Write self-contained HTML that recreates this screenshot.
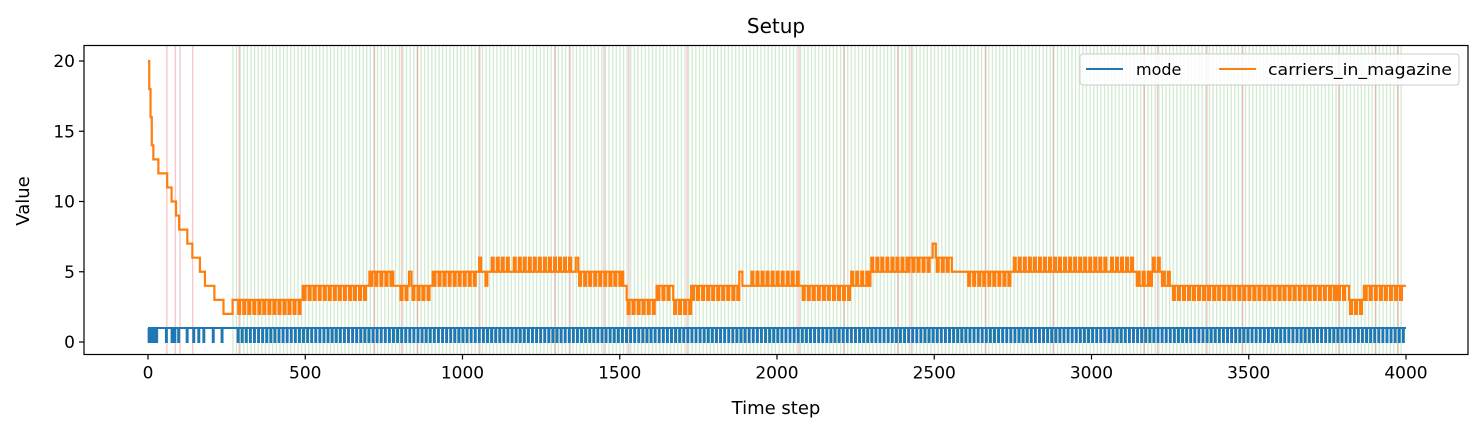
<!DOCTYPE html>
<html><head><meta charset="utf-8"><style>
html,body{margin:0;padding:0;background:#fff;}
svg{display:block;font-family:"DejaVu Sans","Liberation Sans",sans-serif;}
</style></head><body>
<svg id="chart" width="1483" height="433" viewBox="0 0 1483 433" xmlns="http://www.w3.org/2000/svg">
<rect x="0" y="0" width="1483" height="433" fill="#fff"/>
<text x="776" y="33" font-size="20" text-anchor="middle" fill="#000">Setup</text>
<g id="events"></g>
<g id="series"></g>
<rect x="84" y="45.5" width="1384" height="309" fill="none" stroke="#000" stroke-width="1.2"/>
<g id="axes"></g>
<text x="776" y="414" font-size="18" text-anchor="middle">Time step</text>
<text x="29" y="201" font-size="18" text-anchor="middle" transform="rotate(-90 29 201)">Value</text>
<g>
<rect x="1080" y="54" width="379" height="31" rx="3" fill="#fff" fill-opacity="0.85" stroke="#ccc"/>
<line x1="1086" y1="69" x2="1123" y2="69" stroke="#1f77b4" stroke-width="2"/>
<text x="1136" y="75" font-size="16">mode</text>
<line x1="1219" y1="69" x2="1256" y2="69" stroke="#ff7f0e" stroke-width="2"/>
<text x="1268" y="75" font-size="16" textLength="184" lengthAdjust="spacingAndGlyphs">carriers_in_magazine</text>
</g>
</svg>
<script>
const xTicks=[0,500,1000,1500,2000,2500,3000,3500,4000];
const yTicks=[0,5,10,15,20];
// orange steps: [tStart, tEnd, baseLevel, flickerLevel]
const carrierSegs=[[0,4,20,20],[4,8,18,18],[8,12,16,16],[12,17,14,14],[17,33,13,13],[33,61,12,12],[61,75,11,11],[75,89,10,10],[89,99,9,9],[99,125,8,8],[125,141,7,7],[141,165,6,6],[165,181,5,5],[181,211,4,4],[211,240,3,3],[240,269,2,2],[269,284,3,3],[284,492,3,2],[492,704,4,3],[704,780,5,4],[780,800,4,4],[800,830,4,3],[830,838,5,5],[838,905,4,3],[905,1050,5,4],[1050,1070,5,6],[1070,1090,5,4],[1090,1160,5,6],[1160,1360,5,6],[1360,1368,6,5],[1368,1511,5,4],[1511,1522,4,4],[1522,1617,3,2],[1617,1670,4,3],[1670,1727,3,2],[1727,1880,4,3],[1880,1890,5,5],[1890,1916,4,4],[1916,2079,4,5],[2079,2233,4,3],[2233,2297,4,5],[2297,2412,5,6],[2412,2495,6,5],[2495,2505,7,7],[2505,2556,6,5],[2556,2605,5,5],[2605,2750,5,4],[2750,3059,5,6],[3059,3144,5,6],[3144,3192,4,5],[3192,3224,5,6],[3224,3256,4,5],[3256,3781,4,3],[3781,3819,4,3],[3819,3866,3,2],[3866,3990,4,3],[3990,4000,4,4]];
// mode dips (0) in sparse early phase, then dense dip ranges
const modeEarlyDips=[2,8,14,20,26,57,75,84,96,123,144,160,176,206,234];
const modeDenseRanges=[[285,4000]];
const modeDenseStep=[13];
// failure (red) events and success (green) event range
const redEvents=[60,87,102,142,290,720,806,857,1055,1295,1342,1450,1529,1714,2070,2213,2384,2427,2664,2878,3167,3210,3367,3481,3786,3903,3975];
const greenRange=[270,3990];
const greenStep=[11.5];

const X0=84,X1=1468,Y0=45.5,Y1=354.5;
const xs=t=>148+t*(1406-148)/4000;
const ys=v=>342-v*(342-61)/20;
const NS="http://www.w3.org/2000/svg";
const ev=document.getElementById('events'),se=document.getElementById('series'),ax=document.getElementById('axes');
function mk(tag,attrs,parent){const e=document.createElementNS(NS,tag);for(const k in attrs)e.setAttribute(k,attrs[k]);parent.appendChild(e);return e;}

for(let t=greenRange[0];t<=greenRange[1];t+=greenStep[0]){
  const l=mk('line',{x1:xs(t),x2:xs(t),y1:Y0,y2:Y1,stroke:'#2ca02c','stroke-opacity':0.22,'stroke-width':1.3},ev);
  
  
}
redEvents.forEach(t=>{
  const l=mk('line',{x1:xs(t),x2:xs(t),y1:Y0,y2:Y1,stroke:'#d62728','stroke-opacity':0.25,'stroke-width':1.4},ev);
  
  
});

let md=`M${xs(0)},${ys(1)}`;
const dips=modeEarlyDips.slice();
modeDenseRanges.forEach((r,i)=>{for(let t=r[0];t<r[1];t+=modeDenseStep[i])dips.push(t);});
dips.sort((a,b)=>a-b).forEach(t=>{md+=` L${xs(t)},${ys(1)} L${xs(t)},${ys(0)} L${xs(t+3)},${ys(0)} L${xs(t+3)},${ys(1)}`;});
md+=` L${xs(4000)},${ys(1)}`;
const mp=mk('path',{d:md,fill:'none',stroke:'#1f77b4','stroke-width':2},se);



let cd='';
carrierSegs.forEach((s,i)=>{
  const [a,b,base,alt]=s;
  cd+=(i===0?`M${xs(a)},${ys(base)}`:` L${xs(a)},${ys(base)}`);
  if(alt!==base){
    for(let t=a+3;t<b-5;t+=16){cd+=` L${xs(t)},${ys(base)} L${xs(t)},${ys(alt)} L${xs(t+6)},${ys(alt)} L${xs(t+6)},${ys(base)}`;}
  }
  cd+=` L${xs(b)},${ys(base)}`;
});
const cp=mk('path',{d:cd,fill:'none',stroke:'#ff7f0e','stroke-width':2.2},se);



xTicks.forEach(t=>{
  const l=mk('line',{x1:xs(t),x2:xs(t),y1:Y1,y2:Y1+5,stroke:'#000','stroke-width':1.2},ax);
  
  
  const tx=mk('text',{x:xs(t),y:Y1+24,'font-size':17,'text-anchor':'middle'},ax);
  tx.textContent=t;
  
  
});
yTicks.forEach(v=>{
  const l=mk('line',{x1:X0-5,x2:X0,y1:ys(v),y2:ys(v),stroke:'#000','stroke-width':1.2},ax);
  
  
  const tx=mk('text',{x:X0-9,y:ys(v)+6,'font-size':17,'text-anchor':'end'},ax);
  tx.textContent=v;
  
  
});
</script>
</body></html>
